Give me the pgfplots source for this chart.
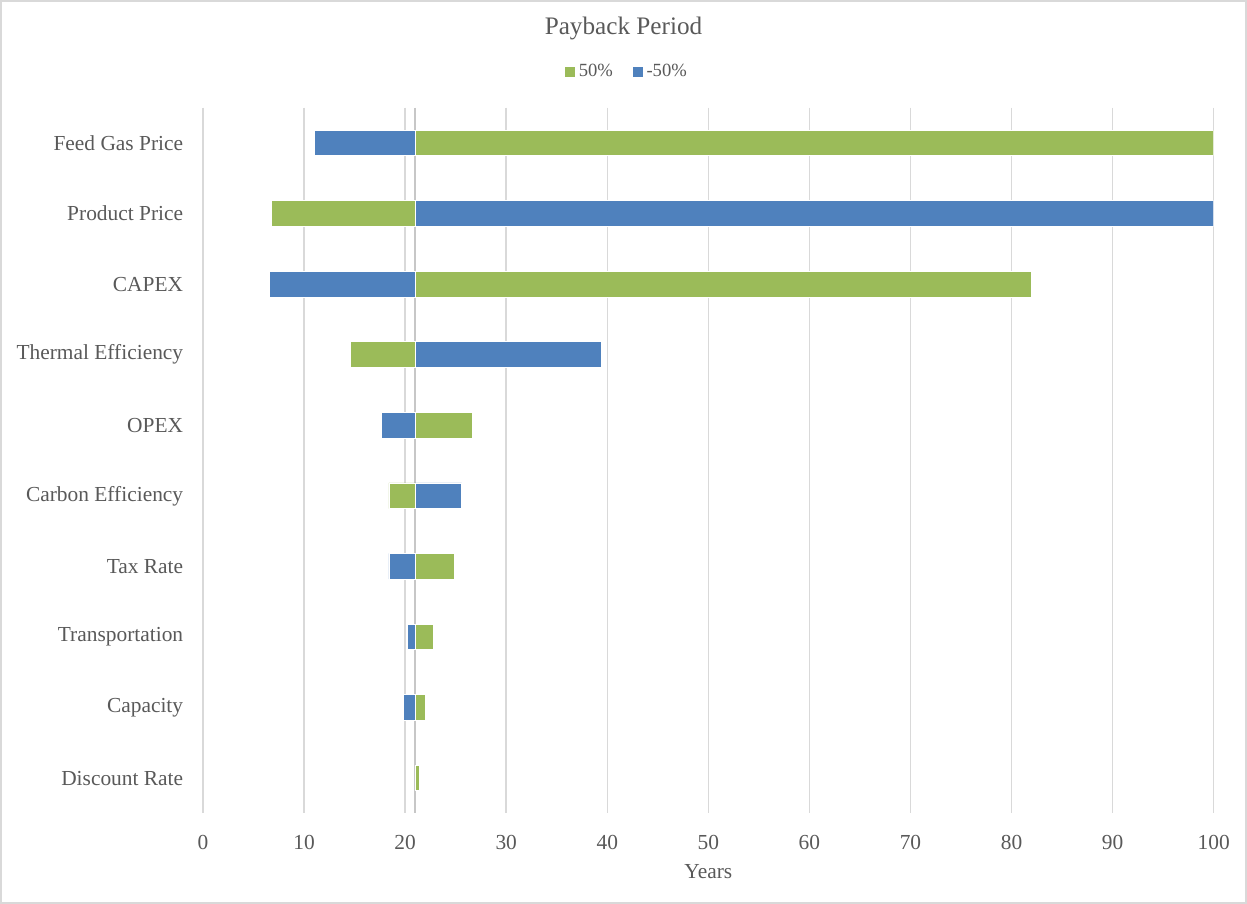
\documentclass[border=0pt]{standalone}
\usepackage{fontspec}
\setmainfont{Liberation Serif}
\usepackage{pgfplots}
\pgfplotsset{compat=1.18}
\usepackage{pgfplotstable}

\definecolor{txt}{HTML}{595959}
\definecolor{grn}{HTML}{9BBB59}
\definecolor{blu}{HTML}{4F81BD}
\definecolor{grd}{HTML}{D9D9D9}

% payback period (years) with each parameter at +50% and -50%
\pgfplotstableread{
idx plus minus
0 100.0 11.0
1 6.8 100.0
2 82.0 6.6
3 14.6 39.4
4 26.7 17.7
5 18.4 25.6
6 24.9 18.4
7 22.8 20.2
8 22.0 19.8
9 21.4 21.0
}\payback

% base-case payback period
\newcommand\basecase{21}

\begin{document}
\begin{tikzpicture}
\path[use as bounding box] (0,0) rectangle (623.5pt,452pt);
\draw[grd, line width=0.75pt] (0.4pt,0.4pt) rectangle (623.1pt,451.6pt);
\node[font=\fontsize{12.6}{15}\selectfont, text=txt] at (311.75pt,438pt) {Payback Period};
\begin{axis}[
  at={(101.5pt,45.35pt)}, anchor=south west,
  scale only axis, width=505.35pt, height=352.8pt,
  xmin=0, xmax=100, ymin=-0.5, ymax=9.5, y dir=reverse,
  xbar stacked, bar width=12.85pt,
  axis line style={draw=none},
  major tick length=0pt,
  xtick={0,10,...,100},
  ytick={0,...,9},
  yticklabels={Feed Gas Price, Product Price, CAPEX, Thermal Efficiency, OPEX,
    Carbon Efficiency, Tax Rate, Transportation, Capacity, Discount Rate},
  xmajorgrids, ymajorgrids=false,
  grid style={grd, line width=0.75pt},
  /pgf/number format/assume math mode=true,
  tick label style={font=\fontsize{10.7}{12}\selectfont, text=txt},
  xticklabel style={yshift=-7.5pt},
  yticklabel style={xshift=-6.4pt},
  xlabel={Years},
  xlabel style={font=\fontsize{10.7}{12}\selectfont, text=txt,
    at={(axis description cs:0.5,0)}, anchor=center, yshift=-29pt},
  legend style={at={(axis description cs:0.4205,1.0506)}, anchor=center,
    draw=none, fill=none, legend columns=-1,
    font=\fontsize{9.3}{11}\selectfont, text=txt,
    /tikz/every even column/.append style={column sep=8pt},
    /tikz/every odd column/.append style={column sep=0pt}},
  legend image code/.code={\path[#1, draw=none] (0pt,-2.4pt) rectangle (4.8pt,2.4pt);},
]
% invisible offset up to the left end of each bar
\addplot[draw=none, fill=none, forget plot]
  table[x expr={min(\thisrow{plus},\thisrow{minus})}, y=idx] {\payback};
% segments left of the base case
\addplot[fill=grn, draw=white, line width=0.4pt]
  table[x expr={max(\basecase-\thisrow{plus},0)}, y=idx] {\payback};
\addlegendentry{50\%}
\addplot[fill=blu, draw=white, line width=0.4pt]
  table[x expr={max(\basecase-\thisrow{minus},0)}, y=idx] {\payback};
\addlegendentry{-50\%}
% segments right of the base case
\addplot[fill=grn, draw=white, line width=0.4pt, forget plot]
  table[x expr={max(\thisrow{plus}-\basecase,0)}, y=idx] {\payback};
\addplot[fill=blu, draw=white, line width=0.4pt, forget plot]
  table[x expr={max(\thisrow{minus}-\basecase,0)}, y=idx] {\payback};
% vertical axis crossing at the base case
\draw[grd!80!gray, line width=0.75pt] (axis cs:\basecase,-0.5) -- (axis cs:\basecase,9.5);
\end{axis}
\end{tikzpicture}
\end{document}
